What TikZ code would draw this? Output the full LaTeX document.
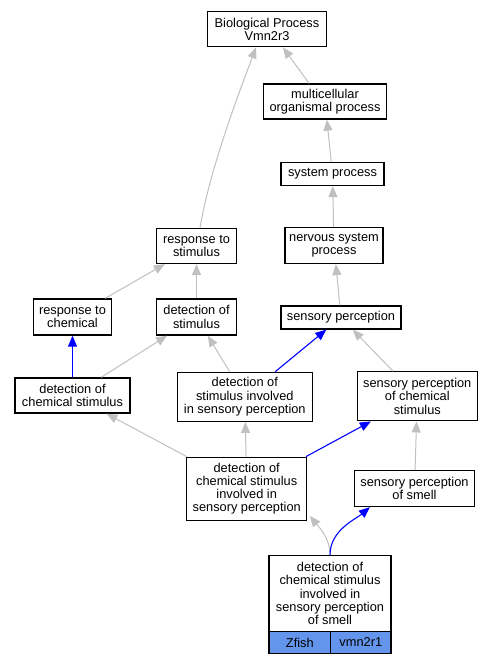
\documentclass[tikz,border=0pt]{standalone}
\usepackage{fontspec}
\setmainfont{Liberation Sans}
\usetikzlibrary{arrows.meta}
\definecolor{edgegray}{HTML}{C0C0C0}
\definecolor{edgeblue}{HTML}{0000FF}
\definecolor{cellblue}{HTML}{6495ED}
\tikzset{
    term/.style={rectangle, draw=black, line width=1.3pt, fill=white, inner sep=0pt, align=center,
        font=\fontsize{12.8}{13.3}\selectfont},
    cell/.style={term, fill=cellblue},
    isa/.style={draw=edgegray, line width=1pt, -{Triangle[length=11pt,width=9pt]}},
    partof/.style={draw=edgeblue, line width=1.1pt, -{Triangle[length=11pt,width=9pt]}}
}
\begin{document}
\begin{tikzpicture}[x=1pt, y=-1pt]
        \useasboundingbox (0,0) rectangle (493,664);
        % Nodes
        \node(bp) [term, minimum width=119pt, minimum height=35pt] at (267,29.2) {Biological Process\\Vmn2r3};
        \node(mop) [term, minimum width=123pt, minimum height=35pt] at (325,101.5) {multicellular\\organismal process};
        \node(sysp) [term, minimum width=103pt, minimum height=23pt] at (332.5,174) {system process};
        \node(nsp) [term, minimum width=98pt, minimum height=36pt] at (334,245.5) {nervous system\\process};
        \node(rs) [term, minimum width=80pt, minimum height=35pt] at (196.5,246) {response to\\stimulus};
        \node(rc) [term, minimum width=78pt, minimum height=36pt] at (72.5,317) {response to\\chemical};
        \node(ds) [term, minimum width=80pt, minimum height=36pt] at (196.5,317) {detection of\\stimulus};
        \node(sp) [term, minimum width=120pt, minimum height=23pt] at (341,317.5) {sensory perception};
        \node(dcs) [term, minimum width=115pt, minimum height=35pt] at (72.5,395.5) {detection of\\chemical stimulus};
        \node(dsisp) [term, minimum width=135pt, minimum height=49pt] at (244.8,396.8) {detection of\\stimulus involved\\in sensory perception};
        \node(spcs) [term, minimum width=120pt, minimum height=49pt] at (417.3,396.3) {sensory perception\\of chemical\\stimulus};
        \node(dcsisp) [term, minimum width=120pt, minimum height=63pt] at (246.7,488.7) {detection of\\chemical stimulus\\involved in\\sensory perception};
        \node(sps) [term, minimum width=120pt, minimum height=36pt] at (414.5,488.5) {sensory perception\\of smell};
        \node(gene) [term, minimum width=122pt, minimum height=76pt] at (330,593.7) {detection of\\chemical stimulus\\involved in\\sensory perception\\of smell};
        \node(zfish) [cell, minimum width=61.7pt, minimum height=21.6pt] at (299.8,642.5) {Zfish};
        \node(vmn) [cell, minimum width=60.3pt, minimum height=21.6pt] at (360.8,642.5) {vmn2r1};

        % Edges
        \draw[isa] ([xshift=-16pt]mop.north) -- ([xshift=16pt]bp.south);
        \draw[isa] ([xshift=3.5pt]rs.north) .. controls +(10,-60) and +(-15,40) .. ([xshift=-11pt]bp.south);
        \draw[isa] (sysp) -- (mop);
        \draw[isa] (nsp) -- (sysp);
        \draw[isa] (sp) -- (nsp);
        \draw[isa] (rc) -- (rs);
        \draw[isa] (ds) -- (rs);
        \draw[partof] (dcs) -- (rc);
        \draw[isa] (dcs) -- (ds);
        \draw[isa] (dsisp) -- (ds);
        \draw[partof] (dsisp) -- (sp);
        \draw[isa] (spcs) -- (sp);
        \draw[isa] (dcsisp) -- (dcs);
        \draw[isa] (dcsisp) -- (dsisp);
        \draw[partof] (dcsisp) -- (spcs);
        \draw[isa] (sps) -- (spcs);
        \draw[isa] (gene.north) .. controls +(0,-18) and +(8,10) .. ([xshift=2.5pt,yshift=5pt]dcsisp.south east);
        \draw[partof] (gene.north) .. controls +(0,-25) and +(-14,12) .. ([xshift=16pt]sps.south west);
    \end{tikzpicture}
\end{document}
